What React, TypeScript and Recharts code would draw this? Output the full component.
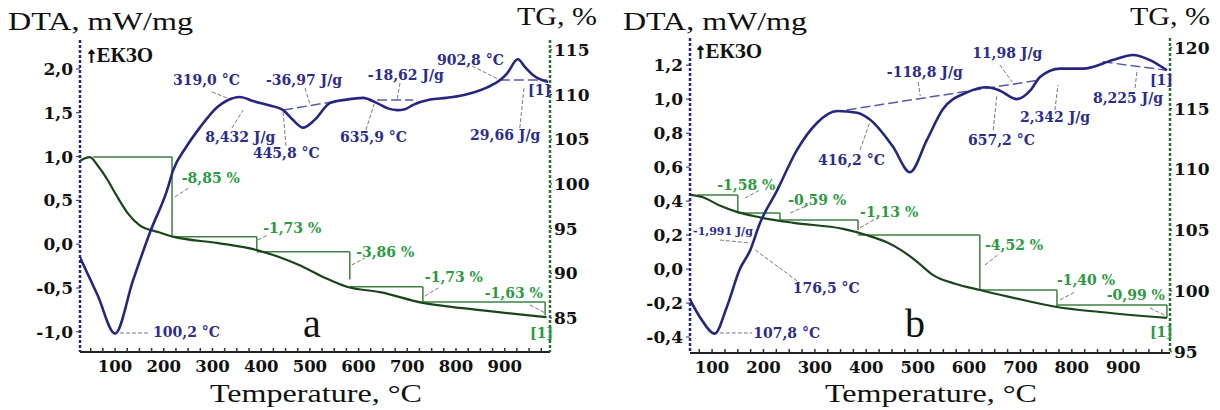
import React from "react";
import { LineChart, Line, XAxis, YAxis, ReferenceLine, ReferenceDot } from "recharts";

const NAVY = "#262680";
const LABEL_BLUE = "#2c2c8e";
const TG_GREEN = "#1b451b";
const STEP_GREEN = "#3f7f3f";
const LABEL_GREEN = "#2b9a42";
const LEADER = "#7a7a7a";
const TICK_FONT = "'DejaVu Serif', serif";
const TITLE_FONT = "'Liberation Serif', 'Times New Roman', serif";

// ---------- panel a ----------
const dtaTempA = [28, 64, 100, 137, 172, 207, 219, 245, 274, 309, 330, 356, 385, 412, 445, 465, 486, 510, 541, 575, 609, 638, 660, 679, 695, 712, 747, 780, 814, 864, 890, 905, 927, 942, 958, 989];
const dtaValA = [-0.15, -0.58, -1.02, -0.41, 0.14, 0.62, 0.84, 1.1, 1.33, 1.56, 1.64, 1.68, 1.63, 1.59, 1.53, 1.42, 1.33, 1.42, 1.61, 1.65, 1.67, 1.61, 1.55, 1.53, 1.54, 1.59, 1.65, 1.67, 1.7, 1.79, 1.87, 1.95, 2.11, 2.02, 1.93, 1.85];
const tgTempA = [28, 48, 65, 83, 102, 125, 150, 190, 219, 309, 391, 438, 479, 527, 576, 644, 732, 814, 916, 986];
const tgValA = [102.6, 103.0, 102.0, 100.6, 98.8, 96.8, 95.4, 94.6, 94.1, 93.4, 92.6, 91.8, 90.9, 89.6, 88.5, 87.9, 86.7, 86.1, 85.5, 85.1];
const stepFromA = [55, 217, 391, 582, 732];
const stepToA = [217, 391, 582, 732, 983];
const stepLevelA = [103.0, 94.1, 92.4, 88.5, 86.8];
const stepDropA = [94.3, 92.6, 89.3, 86.7, 85.3];
const lossTextA = ["-8,85 %", "-1,73 %", "-3,86 %", "-1,73 %", "-1,63 %", "[1]"];
const lossAtTA = [237, 404, 595, 736, 859, 952];
const lossAtVA = [100.1, 94.5, 91.8, 89.0, 87.2, 82.8];
const peakTextA = ["319,0 °C", "8,432 J/g", "445,8 °C", "-36,97 J/g", "-18,62 J/g", "635,9 °C", "902,8 °C", "29,66 J/g", "[1]", "100,2 °C"];
const peakAtTA = [219, 285, 383, 410, 619, 562, 761, 829, 948, 178];
const peakAtVA = [1.816, 1.166, 0.984, 1.816, 1.874, 1.166, 2.045, 1.189, 1.702, -1.059];
const dtaTicksA = [-1, -0.5, 0, 0.5, 1, 1.5, 2];
const tgTicksA = [85, 90, 95, 100, 105, 110, 115];
// leader / baseline segments [t1, v1, t2, v2]
const dtaLeadersA = [
  [299, 1.737, 340, 1.646], [340, 1.326, 363, 1.531], [451, 1.121, 445, 1.508], [490, 1.782, 500, 1.6],
  [685, 1.84, 679, 1.645], [615, 1.303, 632, 1.6], [833, 2.033, 890, 1.874], [931, 1.326, 940, 1.805],
  [110, -1.013, 168, -1.013],
];
const dtaBaselinesA = [[445, 1.53, 568, 1.645], [638, 1.645, 712, 1.645], [890, 1.874, 987, 1.874]];
const tgLeadersA = [[223, 98.54, 254, 99.66], [393, 93.73, 414, 94.29], [586, 90.93, 613, 91.71], [736, 87.46, 767, 88.47], [952, 86.46, 983, 85.56]];

// ---------- panel b ----------
const dtaTempB = [57, 80, 105, 129, 154, 174, 193, 226, 265, 304, 343, 382, 407, 452, 485, 518, 549, 596, 635, 660, 693, 719, 738, 777, 822, 880, 919, 952, 985];
const dtaValB = [-0.18, -0.3, -0.38, -0.22, 0.0, 0.11, 0.27, 0.46, 0.7, 0.86, 0.93, 0.92, 0.88, 0.72, 0.57, 0.76, 0.94, 1.04, 1.07, 1.05, 1.0, 1.05, 1.13, 1.18, 1.18, 1.23, 1.26, 1.23, 1.17];
const tgTempB = [57, 82, 116, 148, 193, 258, 355, 400, 440, 470, 499, 530, 573, 621, 680, 771, 855, 985];
const tgValB = [107.9, 107.7, 107.0, 106.5, 106.05, 105.6, 105.1, 104.6, 104.0, 103.3, 102.4, 101.3, 100.6, 100.08, 99.5, 98.68, 98.27, 97.78];
const stepFromB = [71, 150, 232, 384, 621, 771];
const stepToB = [150, 232, 384, 621, 771, 985];
const stepLevelB = [107.89, 106.41, 105.84, 104.6, 100.08, 98.85];
const stepDropB = [106.41, 105.67, 105.0, 100.08, 98.6, 97.78];
const lossTextB = ["-1,58 %", "-0,59 %", "-1,13 %", "-4,52 %", "-1,40 %", "-0,99 %", "[1]"];
const lossAtTB = [110, 248, 388, 631, 771, 868, 952];
const lossAtVB = [108.3, 107.07, 106.08, 103.37, 100.5, 99.26, 96.2];
const peakTextB = ["-118,8 J/g", "11,98 J/g", "416,2 °C", "657,2 °C", "2,342 J/g", "8,225 J/g", "[1]", "-1,991 J/g", "176,5 °C", "107,8 °C"];
const peakAtTB = [440, 606, 306, 598, 699, 841, 952, 63, 257, 180];
const peakAtVB = [1.13, 1.242, 0.612, 0.73, 0.866, 0.977, 1.083, 0.2, -0.141, -0.406];
const dtaTicksB = [-0.4, -0.2, 0, 0.2, 0.4, 0.6, 0.8, 1.0, 1.2];
const tgTicksB = [95, 100, 105, 110, 115, 120];
const dtaLeadersB = [
  [501, 1.101, 505, 1.019], [660, 1.201, 684, 1.101], [388, 0.701, 407, 0.866], [647, 0.818, 654, 1.019],
  [767, 0.936, 773, 1.083], [923, 1.066, 927, 1.172], [115, 0.171, 174, 0.153], [184, 0.112, 271, -0.082],
  [115, -0.376, 178, -0.376],
];
const dtaBaselinesB = [[335, 0.924, 738, 1.113], [860, 1.22, 985, 1.17]];
const tgLeadersB = [[164, 107.64, 193, 108.3], [252, 106.41, 287, 107.07], [388, 105.18, 417, 105.92], [631, 102.14, 656, 102.96], [777, 99.26, 806, 99.92], [952, 98.6, 981, 98.0]];

const tempMajor = [100, 200, 300, 400, 500, 600, 700, 800, 900];
const tempMinorA = [50, 75, 100, 125, 150, 175, 200, 225, 250, 275, 300, 325, 350, 375, 400, 425, 450, 475, 500, 525, 550, 575, 600, 625, 650, 675, 700, 725, 750, 775, 800, 825, 850, 875, 900, 925, 950, 975];
const tempMinorB = tempMinorA.slice(1);

const panelA = {
  left: 0, top: 40, xh: 58, lw: 80, rw: 60,
  tDomain: [28, 993], dtaDomain: [-1.23, 2.33], tgDomain: [81.2, 116.1],
  dtaT: dtaTempA, dtaV: dtaValA, tgT: tgTempA, tgV: tgValA,
  stepFrom: stepFromA, stepTo: stepToA, stepLevel: stepLevelA, stepDrop: stepDropA,
  lossText: lossTextA, lossT: lossAtTA, lossV: lossAtVA,
  peakText: peakTextA, peakT: peakAtTA, peakV: peakAtVA,
  dtaTicks: dtaTicksA, tgTicks: tgTicksA, tTicks: tempMinorA,
  dtaLeaders: dtaLeadersA, dtaBaselines: dtaBaselinesA, tgLeaders: tgLeadersA,
};
const panelB = {
  left: 610, top: 38, xh: 57, lw: 80, rw: 50,
  tDomain: [57, 991], dtaDomain: [-0.494, 1.36], tgDomain: [94.9, 120.8],
  dtaT: dtaTempB, dtaV: dtaValB, tgT: tgTempB, tgV: tgValB,
  stepFrom: stepFromB, stepTo: stepToB, stepLevel: stepLevelB, stepDrop: stepDropB,
  lossText: lossTextB, lossT: lossAtTB, lossV: lossAtVB,
  peakText: peakTextB, peakT: peakAtTB, peakV: peakAtVB,
  dtaTicks: dtaTicksB, tgTicks: tgTicksB, tTicks: tempMinorB,
  dtaLeaders: dtaLeadersB, dtaBaselines: dtaBaselinesB, tgLeaders: tgLeadersB,
};

const fmt = (v: number) => v.toFixed(1).replace(".", ",");

function XTick(props: any) {
  const { x, y, payload } = props;
  const axisY = y - 8;
  const major = tempMajor.includes(payload.value);
  return (
    <g>
      <line x1={x} x2={x} y1={axisY - 4} y2={axisY} stroke="#333" strokeWidth={1.5} />
      {major && (
        <text x={x} y={y} dy="0.72em" textAnchor="middle" fontFamily={TICK_FONT} fontWeight="bold" fontSize={16.5} fill="#111">
          {payload.value}
        </text>
      )}
    </g>
  );
}

function textShape(text: string, color: string, size = 14) {
  return (p: any) => (
    <text x={p.cx} y={p.cy} fontFamily={TICK_FONT} fontWeight="bold" fontSize={size} fill={color}>
      {text}
    </text>
  );
}

function Panel({ cfg }: { cfg: any }) {
  const dta = cfg.dtaT.map((t: number, i: number) => ({ t, v: cfg.dtaV[i] }));
  const tg = cfg.tgT.map((t: number, i: number) => ({ t, v: cfg.tgV[i] }));
  const yTick = { fontFamily: TICK_FONT, fontWeight: "bold", fontSize: 17, fill: "#111" };
  return (
    <div style={{ position: "absolute", left: cfg.left, top: 0 }}>
      <LineChart width={610} height={410} margin={{ top: cfg.top, right: 0, bottom: 0, left: 0 }}>
        <XAxis
          type="number" dataKey="t" domain={cfg.tDomain} ticks={cfg.tTicks} interval={0} allowDataOverflow
          height={cfg.xh} tickSize={0} tickMargin={8} tickLine={false}
          tick={(p: any) => <XTick {...p} />}
          axisLine={{ stroke: "#222", strokeWidth: 2 }}
        />
        <YAxis
          yAxisId="dta" orientation="left" width={cfg.lw} domain={cfg.dtaDomain} ticks={cfg.dtaTicks}
          allowDataOverflow interval={0} tickFormatter={fmt} tick={yTick} tickSize={4} tickMargin={3}
          tickLine={{ stroke: NAVY }}
          axisLine={{ stroke: NAVY, strokeWidth: 2.5, strokeDasharray: "3 2" }}
        />
        <YAxis
          yAxisId="tg" orientation="right" width={cfg.rw} domain={cfg.tgDomain} ticks={cfg.tgTicks}
          allowDataOverflow interval={0} tick={yTick} tickSize={2} tickMargin={2}
          tickLine={{ stroke: TG_GREEN }}
          axisLine={{ stroke: "#2f6f2f", strokeWidth: 2.5, strokeDasharray: "3 2" }}
        />

        {cfg.stepFrom.map((t0: number, i: number) => (
          <ReferenceLine key={`sh${i}`} yAxisId="tg" stroke={STEP_GREEN} strokeWidth={1.5}
            segment={[{ x: t0, y: cfg.stepLevel[i] }, { x: cfg.stepTo[i], y: cfg.stepLevel[i] }]} />
        ))}
        {cfg.stepTo.map((t1: number, i: number) => (
          <ReferenceLine key={`sv${i}`} yAxisId="tg" stroke={STEP_GREEN} strokeWidth={1.5}
            segment={[{ x: t1, y: cfg.stepLevel[i] }, { x: t1, y: cfg.stepDrop[i] }]} />
        ))}
        {cfg.tgLeaders.map((s: number[], i: number) => (
          <ReferenceLine key={`tl${i}`} yAxisId="tg" stroke={LEADER} strokeDasharray="4 2"
            segment={[{ x: s[0], y: s[1] }, { x: s[2], y: s[3] }]} />
        ))}
        {cfg.dtaLeaders.map((s: number[], i: number) => (
          <ReferenceLine key={`dl${i}`} yAxisId="dta" stroke={LEADER} strokeDasharray="4 2"
            segment={[{ x: s[0], y: s[1] }, { x: s[2], y: s[3] }]} />
        ))}
        {cfg.dtaBaselines.map((s: number[], i: number) => (
          <ReferenceLine key={`db${i}`} yAxisId="dta" stroke="#5a5aa8" strokeWidth={1.5} strokeDasharray="10 4"
            segment={[{ x: s[0], y: s[1] }, { x: s[2], y: s[3] }]} />
        ))}

        <Line data={tg} dataKey="v" yAxisId="tg" type="monotone" stroke={TG_GREEN} strokeWidth={2.2} dot={false} isAnimationActive={false} />
        <Line data={dta} dataKey="v" yAxisId="dta" type="monotone" stroke={NAVY} strokeWidth={2.6} dot={false} isAnimationActive={false} />

        {cfg.peakText.map((s: string, i: number) => (
          <ReferenceDot key={`pt${i}`} yAxisId="dta" x={cfg.peakT[i]} y={cfg.peakV[i]} r={0}
            shape={textShape(s, LABEL_BLUE, s === "-1,991 J/g" ? 11 : 14)} />
        ))}
        {cfg.lossText.map((s: string, i: number) => (
          <ReferenceDot key={`lt${i}`} yAxisId="tg" x={cfg.lossT[i]} y={cfg.lossV[i]} r={0}
            shape={textShape(s, LABEL_GREEN, 14)} />
        ))}
      </LineChart>
    </div>
  );
}

export default function App() {
  return (
    <div style={{ position: "absolute", left: 0, top: 0, width: 1220, height: 410, background: "#fff", overflow: "hidden" }}>
      <Panel cfg={panelA} />
      <Panel cfg={panelB} />
      <svg width={1220} height={410} style={{ position: "absolute", left: 0, top: 0, pointerEvents: "none" }}>
        <g fontFamily={TITLE_FONT} fill="#111">
          <text x={8} y={30} fontSize={26} textLength={185} lengthAdjust="spacingAndGlyphs">DTA, mW/mg</text>
          <text x={517} y={25} fontSize={26} textLength={80} lengthAdjust="spacingAndGlyphs">TG, %</text>
          <text x={623} y={30} fontSize={26} textLength={184} lengthAdjust="spacingAndGlyphs">DTA, mW/mg</text>
          <text x={1130} y={25} fontSize={26} textLength={80} lengthAdjust="spacingAndGlyphs">TG, %</text>
          <text x={210} y={402} fontSize={26} textLength={212} lengthAdjust="spacingAndGlyphs">Temperature, °C</text>
          <text x={825} y={402} fontSize={26} textLength={212} lengthAdjust="spacingAndGlyphs">Temperature, °C</text>
          <text x={303} y={337} fontSize={40}>a</text>
          <text x={905} y={337} fontSize={40}>b</text>
          <text x={86} y={62} fontSize={21} fontWeight="bold">
            <tspan stroke="#111" strokeWidth={1.2}>↑</tspan>ЕКЗО
          </text>
          <text x={695} y={58} fontSize={21} fontWeight="bold">
            <tspan stroke="#111" strokeWidth={1.2}>↑</tspan>ЕКЗО
          </text>
        </g>
      </svg>
    </div>
  );
}
